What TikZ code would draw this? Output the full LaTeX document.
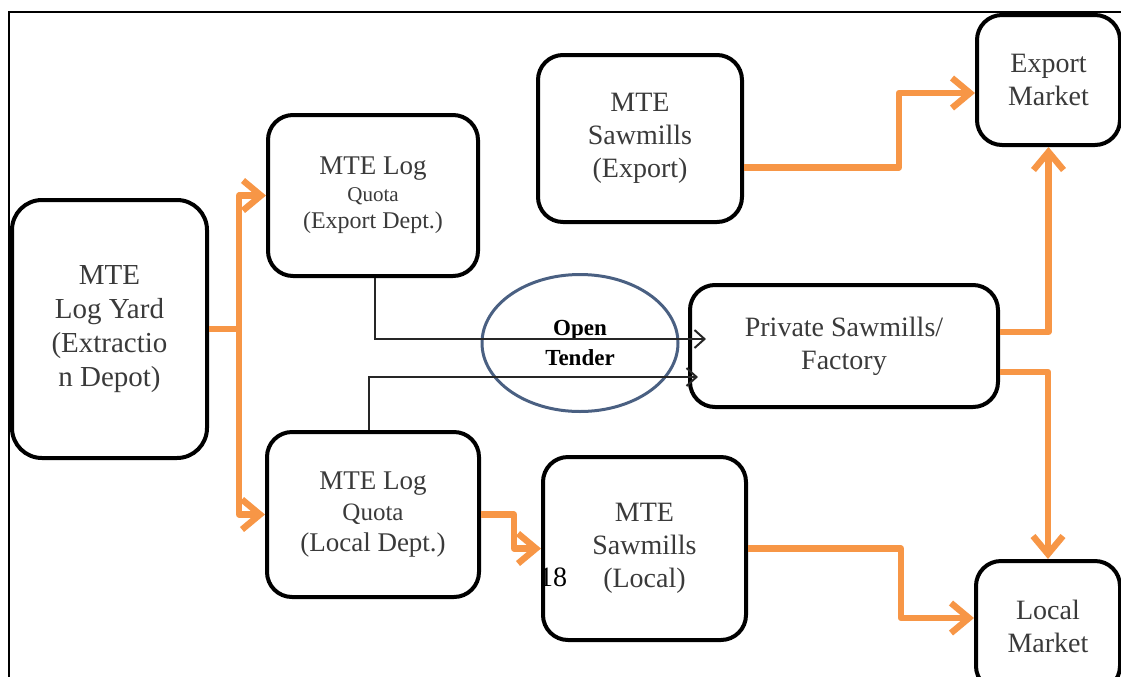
\documentclass[tikz,border=0pt]{standalone}
\usepackage{fontspec}
\setmainfont{Liberation Serif}
\usetikzlibrary{arrows.meta,positioning,shapes.geometric}
\definecolor{flowcol}{HTML}{F79646}
\definecolor{tendercol}{RGB}{74,96,130}
\definecolor{boxtext}{HTML}{3A3A3A}

\begin{document}
\begin{tikzpicture}[x=0.5pt,y=-0.5pt,on grid,
    stage/.style={draw,line width=2pt,rounded corners=12.5pt,inner sep=0pt,
      align=center,text=boxtext,font=\fontsize{14}{16.5}\selectfont},
    flow/.style={color=flowcol,line width=3.2pt,line join=round,
      -{Straight Barb[length=9pt,width=15pt]}},
    bid/.style={color=black!85,line width=1pt,-{Straight Barb[length=5pt,width=9pt]}},
    vh/.style={to path={|- (\tikztotarget)}}]
  \useasboundingbox (0,0) rectangle (1121,676);
  \clip (0,0) rectangle (1121,676);
  \draw[line width=0.8pt] (9,12) rectangle (1140,700);

  \node[stage,minimum width=97.5pt,minimum height=129pt,rounded corners=15pt,
    font=\fontsize{14.5}{17}\selectfont] (log_yard) at (109.5,329)
    {MTE\\Log Yard\\(Extractio\\n Depot)};
  \node[stage,minimum width=105pt,minimum height=80.5pt,font=\fontsize{12}{13.5}\selectfont]
    (quota_exp) [above right=66.75pt and 131.75pt of log_yard]
    {{\fontsize{13.5}{13.5}\selectfont MTE Log}\\{\fontsize{10.5}{13.5}\selectfont Quota}\\(Export Dept.)};
  \node[stage,minimum width=106pt,minimum height=82.5pt,font=\fontsize{13.5}{15.5}\selectfont]
    (quota_loc) [below=159.5pt of quota_exp]
    {MTE Log\\{\fontsize{12.5}{15.5}\selectfont Quota}\\(Local Dept.)};
  \node[stage,minimum width=102pt,minimum height=83.5pt] (saw_exp)
    [above right=28.5pt and 133.5pt of quota_exp] {MTE\\Sawmills\\(Export)};
  \node[stage,minimum width=101.5pt,minimum height=91.5pt] (saw_loc)
    [below right=17pt and 135.75pt of quota_loc] {MTE\\Sawmills\\(Local)};
  \node[stage,minimum width=154pt,minimum height=61pt] (private)
    [below right=8.5pt and 367.25pt of log_yard] {Private Sawmills/\\Factory};
  \node[stage,minimum width=71.5pt,minimum height=65pt] (export_mkt)
    [above right=133pt and 102.25pt of private] {Export\\Market};
  \node[stage,minimum width=72pt,minimum height=65pt] (local_mkt)
    [below right=140pt and 102pt of private] {Local\\Market};

  \node[ellipse,draw=tendercol,line width=1.5pt,minimum width=98pt,minimum height=68.5pt,
    inner sep=0pt,align=center,font=\bfseries\fontsize{11.5}{15}\selectfont] (tender)
    [above left=1.5pt and 132pt of private] {Open\\Tender};
  \node[font=\fontsize{14}{14}\selectfont] (page_no) at (553,577) {18};

  % log yard splits to the two quota departments
  \draw[flow,-] (log_yard.east) -- ++(30,0) coordinate (split);
  \path[flow] (split) edge[vh] (quota_exp.west)
                      edge[vh] (quota_loc.west);
  \draw[flow] (quota_loc.east) -- ++(33,0) |- (saw_loc.west);
  \draw[flow] ([yshift=-14.5pt]saw_exp.east) -- ++(155,0) |- ([yshift=-6.5pt]export_mkt.west);
  \draw[flow] ([yshift=7pt]private.east) -| (export_mkt.south);
  \draw[flow] ([yshift=-13pt]private.east) -| (local_mkt.north);
  \draw[flow] (saw_loc.east) -- ++(153,0) |- ([yshift=4pt]local_mkt.west);

  % open tender
  \draw[bid] ([xshift=1pt]quota_exp.south) |- ([xshift=9pt,yshift=3.5pt]private.west);
  \draw[bid] ([xshift=-2pt]quota_loc.north) |- ([xshift=5pt,yshift=-15.5pt]private.west);
\end{tikzpicture}
\end{document}
